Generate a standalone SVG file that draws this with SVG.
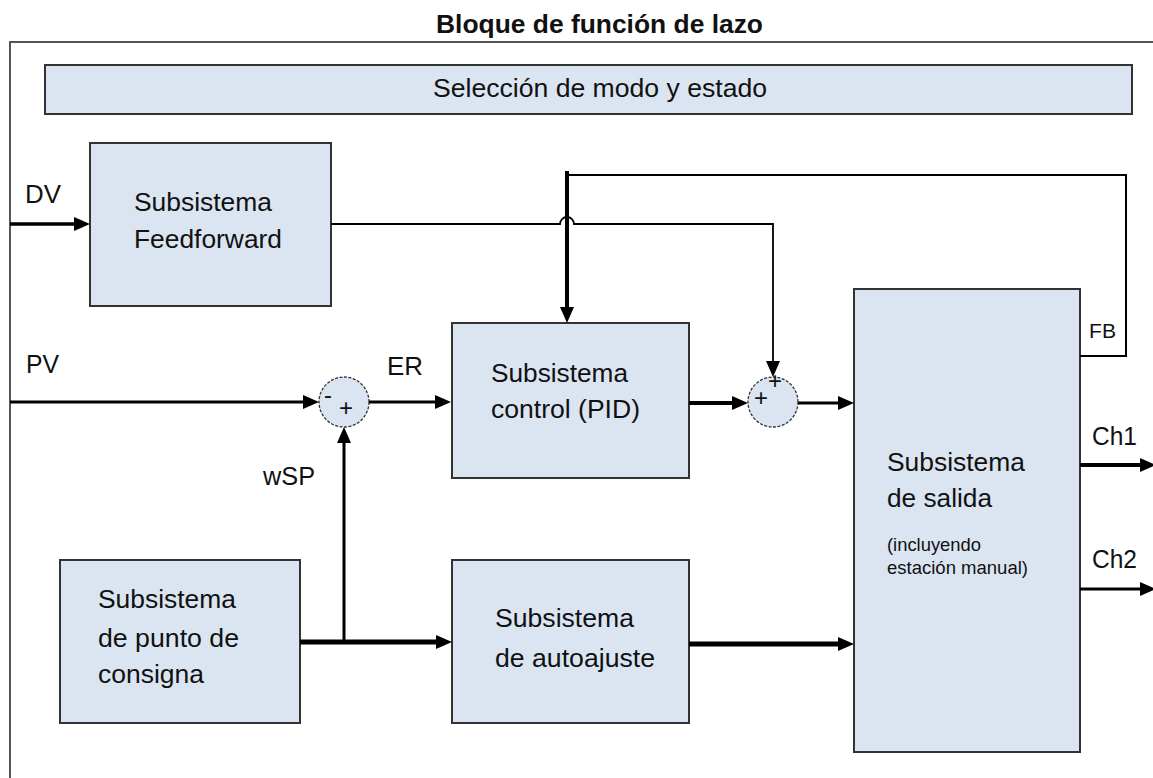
<svg xmlns="http://www.w3.org/2000/svg" width="1153" height="778" viewBox="0 0 1153 778">
<defs>
<marker id="ah" markerUnits="userSpaceOnUse" markerWidth="16" markerHeight="14" refX="6" refY="7" orient="auto">
<path d="M0,0 L16,7 L0,14 z" fill="#000"/>
</marker>
<style>
text{font-family:"Liberation Sans",Arial,sans-serif;fill:#111;}
.t{font-size:26px;}
.s{font-size:18px;}
.box{fill:#dbe5f1;stroke:#333;stroke-width:2;}
.sum{fill:#dbe5f1;stroke:#333;stroke-width:1.3;stroke-dasharray:3 1.5;}
.c{fill:none;stroke:#000;}
.pm{font-size:24px;}
</style>
</defs>
<rect width="1153" height="778" fill="#fff"/>
<rect x="10" y="42" width="1160" height="760" fill="#fff" stroke="#555" stroke-width="2"/>
<text x="436" y="33" font-weight="bold" style="font-size:26px" textLength="327" lengthAdjust="spacingAndGlyphs">Bloque de función de lazo</text>

<g id="mode">
<rect x="45" y="65" width="1087" height="49" class="box"/>
<text x="433" y="97" class="t" textLength="334" lengthAdjust="spacingAndGlyphs">Selección de modo y estado</text>
</g>

<g id="feedforward">
<rect x="90" y="143" width="241" height="163" class="box"/>
<text x="134" y="211" class="t" textLength="138" lengthAdjust="spacingAndGlyphs">Subsistema</text>
<text x="134" y="248" class="t" textLength="148" lengthAdjust="spacingAndGlyphs">Feedforward</text>
</g>

<g id="control">
<rect x="452" y="323" width="237" height="155" class="box"/>
<text x="491" y="382" class="t" textLength="137" lengthAdjust="spacingAndGlyphs">Subsistema</text>
<text x="491" y="418" class="t" textLength="149" lengthAdjust="spacingAndGlyphs">control (PID)</text>
</g>

<g id="salida">
<rect x="854" y="289" width="226" height="463" class="box"/>
<text x="887" y="471" class="t" textLength="138" lengthAdjust="spacingAndGlyphs">Subsistema</text>
<text x="887" y="507" class="t" textLength="105" lengthAdjust="spacingAndGlyphs">de salida</text>
<text x="887" y="551" class="s" textLength="94" lengthAdjust="spacingAndGlyphs">(incluyendo</text>
<text x="887" y="574" class="s" textLength="141" lengthAdjust="spacingAndGlyphs">estación manual)</text>
</g>

<g id="consigna">
<rect x="60" y="560" width="240" height="163" class="box"/>
<text x="98" y="608" class="t" textLength="138" lengthAdjust="spacingAndGlyphs">Subsistema</text>
<text x="98" y="647" class="t" textLength="141" lengthAdjust="spacingAndGlyphs">de punto de</text>
<text x="98" y="683" class="t" textLength="106" lengthAdjust="spacingAndGlyphs">consigna</text>
</g>

<g id="autoajuste">
<rect x="452" y="560" width="237" height="163" class="box"/>
<text x="495" y="627" class="t" textLength="139" lengthAdjust="spacingAndGlyphs">Subsistema</text>
<text x="495" y="667" class="t" textLength="160" lengthAdjust="spacingAndGlyphs">de autoajuste</text>
</g>

<g id="sum1">
<circle cx="344" cy="402" r="25" class="sum"/>
<text x="328" y="403" class="pm" text-anchor="middle">-</text>
<text x="346" y="416" class="pm" text-anchor="middle">+</text>
</g>

<g id="sum2">
<circle cx="773" cy="402" r="25" class="sum"/>
<text x="761" y="406" class="pm" text-anchor="middle">+</text>
<text x="775" y="389" class="pm" text-anchor="middle">+</text>
</g>

<g id="connectors">
<path class="c" stroke-width="3.5" d="M10,224 H80" marker-end="url(#ah)"/>
<path class="c" stroke-width="3" d="M10,402 H309" marker-end="url(#ah)"/>
<path class="c" stroke-width="3" d="M369,402 H441" marker-end="url(#ah)"/>
<path class="c" stroke-width="3" d="M344,642 V437" marker-end="url(#ah)"/>
<path class="c" stroke-width="5" d="M300,642 H442" marker-end="url(#ah)"/>
<path class="c" stroke-width="4" d="M689,403 H738" marker-end="url(#ah)"/>
<path class="c" stroke-width="3" d="M798,403 H844" marker-end="url(#ah)"/>
<path class="c" stroke-width="5" d="M689,644 H844" marker-end="url(#ah)"/>
<path class="c" stroke-width="4" d="M1080,465 H1146" marker-end="url(#ah)"/>
<path class="c" stroke-width="3" d="M1080,589 H1146" marker-end="url(#ah)"/>
<path class="c" stroke-width="2" d="M1080,356 H1126 V175 H567"/>
<path class="c" stroke-width="4" d="M567,171 V313" marker-end="url(#ah)"/>
<path class="c" stroke-width="1.8" d="M331,224 H560 A7,7 0 0 1 574,224 H773 V367" marker-end="url(#ah)"/>
</g>

<g id="labels">
<text x="25" y="203" class="t" textLength="36" lengthAdjust="spacingAndGlyphs">DV</text>
<text x="26" y="373" class="t" textLength="33" lengthAdjust="spacingAndGlyphs">PV</text>
<text x="387" y="375" class="t" textLength="36" lengthAdjust="spacingAndGlyphs">ER</text>
<text x="263" y="485" class="t" textLength="52" lengthAdjust="spacingAndGlyphs">wSP</text>
<text x="1089" y="338" style="font-size:21px" textLength="27" lengthAdjust="spacingAndGlyphs">FB</text>
<text x="1092" y="445" class="t" textLength="45" lengthAdjust="spacingAndGlyphs">Ch1</text>
<text x="1092" y="568" class="t" textLength="45" lengthAdjust="spacingAndGlyphs">Ch2</text>
</g>
</svg>
